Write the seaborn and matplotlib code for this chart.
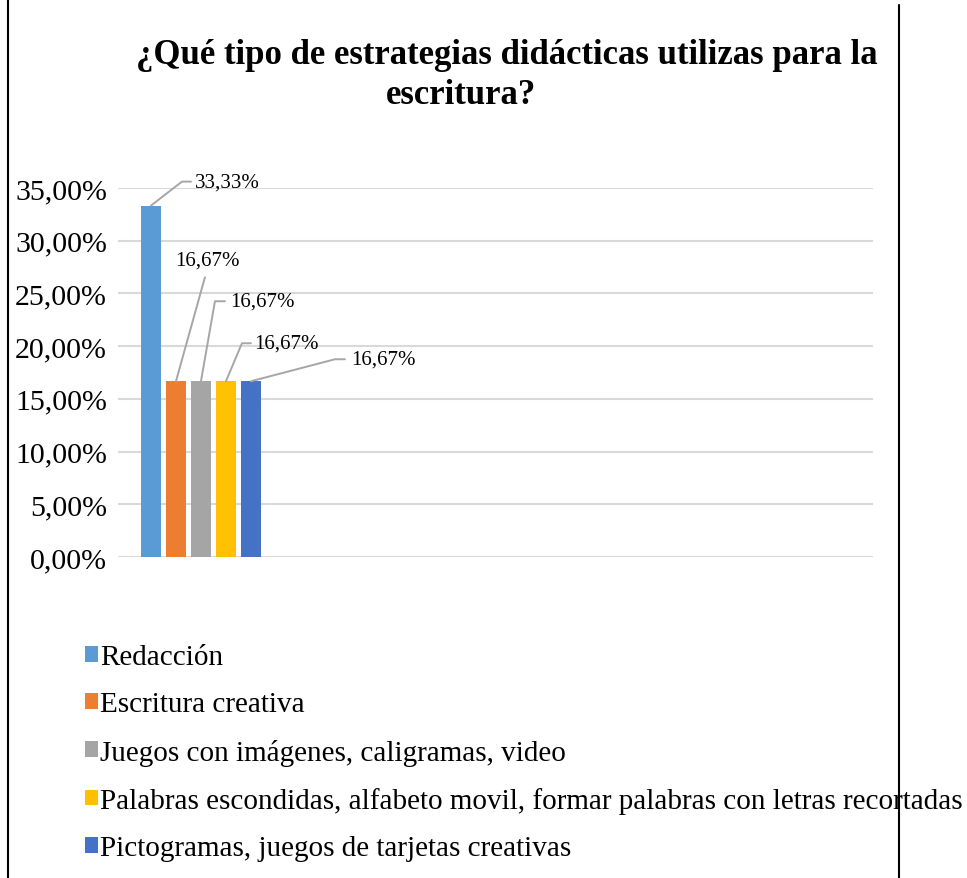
import matplotlib
matplotlib.use("Agg")
import matplotlib.pyplot as plt
import matplotlib.transforms as mtransforms
from matplotlib.lines import Line2D
import seaborn as sns
import pandas as pd

# ---- data ----
categorias = [
    "Redacción",
    "Escritura creativa",
    "Juegos con imágenes, caligramas, video",
    "Palabras escondidas, alfabeto movil, formar palabras con letras recortadas",
    "Pictogramas, juegos de tarjetas creativas",
]
valores = [0.3333, 0.1667, 0.1667, 0.1667, 0.1667]
etiquetas = ["33,33%", "16,67%", "16,67%", "16,67%", "16,67%"]
colores = ["#5B9BD5", "#ED7D31", "#A5A5A5", "#FFC000", "#4472C4"]
yticks = [0.0, 0.05, 0.10, 0.15, 0.20, 0.25, 0.30, 0.35]
yticklabels = ["0,00%", "5,00%", "10,00%", "15,00%", "20,00%", "25,00%", "30,00%", "35,00%"]
titulo1 = "¿Qué tipo de estrategias didácticas utilizas para la"
titulo2 = "escritura?"

df = pd.DataFrame({"grupo": ["g"] * len(categorias), "estrategia": categorias, "valor": valores})

sns.set_theme(style="white")
plt.rcParams["font.family"] = ["Liberation Serif", "DejaVu Serif"]
plt.rcParams["text.color"] = "black"
plt.rcParams["ytick.color"] = "black"

W, H = 967, 879
fig = plt.figure(figsize=(W / 100, H / 100), dpi=100)
fig.patch.set_facecolor("white")

def px_ax(l, t, r, b):
    return [l / W, 1 - b / H, (r - l) / W, (b - t) / H]

ax = fig.add_axes(px_ax(118, 189, 873, 558))
ax.set_facecolor("none")

sns.barplot(data=df, x="grupo", y="valor", hue="estrategia", hue_order=categorias,
            palette=colores, gap=0.2, width=0.833, saturation=1, linewidth=0,
            ax=ax, legend=True)

ax.set_ylim(0, 0.35)
ax.set_xlim(-0.553, 4.48)
ax.set_yticks(yticks)
ax.set_yticklabels(yticklabels, fontsize=21.5, color="#000000")
ax.set_xticks([])
ax.set_xlabel("")
ax.set_ylabel("")
ax.tick_params(axis="y", length=0, pad=8)
for s in ax.spines.values():
    s.set_visible(False)
ax.yaxis.grid(True, color="#D9D9D9", lw=1.5)
ax.set_axisbelow(True)

# legend
handles, labels = ax.get_legend_handles_labels()
ax.legend(handles, labels, loc="upper left", bbox_to_anchor=(85 / W, 1 - 645 / H),
          bbox_transform=fig.transFigure, frameon=False, fontsize=21, labelcolor="black",
          handlelength=0.46, handleheight=0.46, handletextpad=0.07,
          labelspacing=0.73, borderpad=0, borderaxespad=0)

# data labels with leader lines (pixel offsets from bar top)
leader = [
    dict(pts=[(0, 0), (31, 24), (40, 24)], txt=(44, 24), ha="left"),
    dict(pts=[(0, 0), (29, 104)], txt=(31, 121), ha="center"),
    dict(pts=[(0, 0), (14, 80), (24, 80)], txt=(29, 80), ha="left"),
    dict(pts=[(0, 0), (16, 38), (25, 38)], txt=(28, 38), ha="left"),
    dict(pts=[(0, 0), (84, 22), (94, 22)], txt=(100, 22), ha="left"),
]
bars = [p for p in ax.patches if p.get_height() > 0]
bars = sorted(bars, key=lambda p: p.get_x())
for bar, lab, spec in zip(bars, etiquetas, leader):
    cx = bar.get_x() + bar.get_width() / 2
    top = bar.get_height()
    tr = mtransforms.Affine2D() + mtransforms.ScaledTranslation(cx, top, ax.transData)
    xs = [p[0] for p in spec["pts"]]
    ys = [p[1] for p in spec["pts"]]
    ax.add_line(Line2D(xs, ys, transform=tr, color="#A6A6A6", lw=1.4, clip_on=False))
    ax.text(spec["txt"][0], spec["txt"][1], lab, transform=tr, ha=spec["ha"], va="center",
            fontsize=15, color="#000000", clip_on=False)

# title
fig.text(507 / W, 1 - 55 / H, titulo1, ha="center", va="center", fontsize=25,
         fontweight="bold", color="#000000")
fig.text(461 / W, 1 - 96 / H, titulo2, ha="center", va="center", fontsize=25,
         fontweight="bold", color="#000000")

# document border lines
fig.add_artist(Line2D([8 / W, 8 / W], [0, 1], transform=fig.transFigure, color="black", lw=1.5))
fig.add_artist(Line2D([899 / W, 899 / W], [0, 1 - 6 / H], transform=fig.transFigure, color="black", lw=1.5))

fig.savefig("out.png", dpi=100)
